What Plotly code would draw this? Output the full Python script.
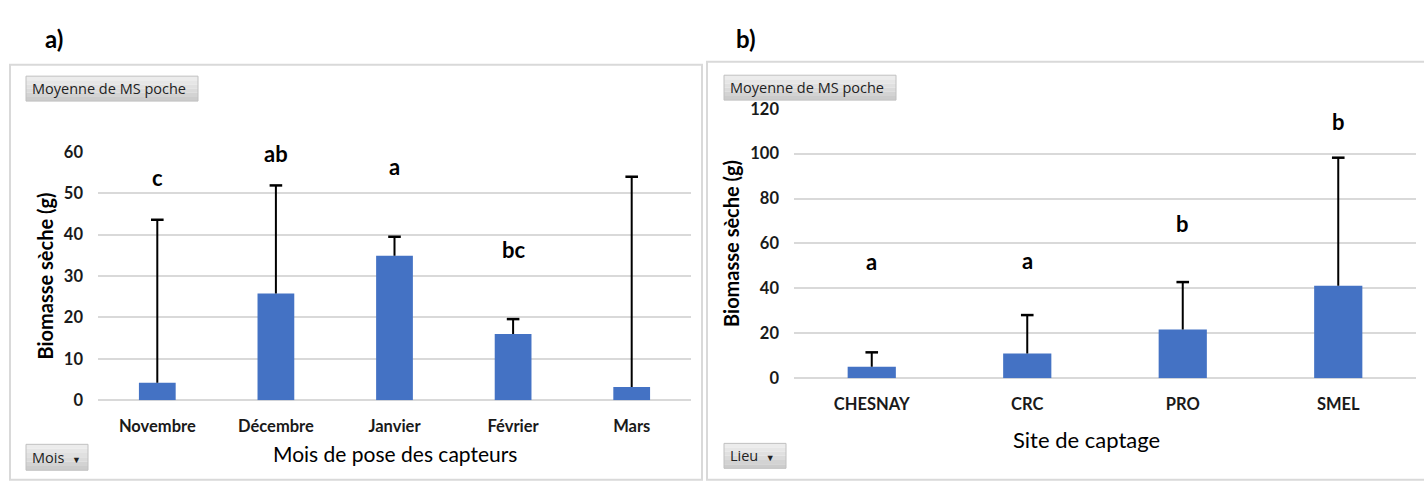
import plotly.graph_objects as go

W, H = 1424, 485

# ---------------- data ----------------
months = ["Novembre", "Décembre", "Janvier", "Février", "Mars"]
month_means = [4.2, 25.8, 34.9, 16.0, 3.2]
month_upper = [43.6, 51.9, 39.5, 19.6, 54.0]
month_letters = ["c", "ab", "a", "bc", "c"]
month_letter_y = [53.9, 59.5, 56.4, 36.5, 62.6]

sites = ["CHESNAY", "CRC", "PRO", "SMEL"]
site_means = [5.1, 11.0, 21.7, 41.2]
site_upper = [11.5, 28.1, 42.8, 98.2]
site_letters = ["a", "a", "b", "b"]
site_letter_y = [51.9, 52.3, 68.7, 114.3]

month_ticks = [0, 10, 20, 30, 40, 50, 60]
site_ticks = [0, 20, 40, 60, 80, 100, 120]

FONT = "Lato"
BAR = "#4472C4"
GRID = "#d9d9d9"


def px(x):
    return x / W


def py(y):
    return 1 - y / H


fig = go.Figure()


def add_panel(cats, means, upper, xa, ya):
    fig.add_trace(go.Bar(
        x=cats, y=means, marker=dict(color=BAR, line=dict(width=0)), width=0.31,
        xaxis=xa, yaxis=ya, showlegend=False, hoverinfo="skip"))
    # one-sided (upper) error bars, no cap at the bar top
    lx, ly = [], []
    for c, m, u in zip(cats, means, upper):
        lx += [c, c, None]
        ly += [m, u, None]
    fig.add_trace(go.Scatter(
        x=lx, y=ly, mode="lines", line=dict(color="black", width=2),
        xaxis=xa, yaxis=ya, showlegend=False, hoverinfo="skip", cliponaxis=False))
    fig.add_trace(go.Scatter(
        x=cats, y=upper, mode="markers",
        marker=dict(symbol="line-ew-open", size=9, color="black",
                    line=dict(color="black", width=2.5)),
        xaxis=xa, yaxis=ya, showlegend=False, hoverinfo="skip", cliponaxis=False))


add_panel(months, month_means, month_upper, "x", "y")
add_panel(sites, site_means, site_upper, "x2", "y2")

tickfont = dict(family=FONT, size=16.5, color="#1a1a1a", weight="bold")
catfont = dict(family=FONT, size=16.5, color="#1a1a1a", weight="bold")

common_y = dict(showgrid=True, gridcolor=GRID, gridwidth=2, zeroline=True,
                zerolinecolor=GRID, zerolinewidth=2, showline=False,
                tickfont=tickfont, ticks="", ticklabelstandoff=14, fixedrange=True)
common_x = dict(showgrid=False, showline=False, zeroline=False, ticks="",
                tickfont=catfont, ticklabelstandoff=14, fixedrange=True)

fig.update_layout(
    width=W, height=H, margin=dict(l=0, r=0, t=0, b=0),
    paper_bgcolor="white", plot_bgcolor="white",
    xaxis=dict(domain=[px(98), px(691)], anchor="y", **common_x),
    yaxis=dict(domain=[py(407), py(148)], anchor="x", range=[0, 60],
               tickvals=month_ticks, **common_y),
    xaxis2=dict(domain=[px(794), px(1416)], anchor="y2", **common_x),
    yaxis2=dict(domain=[py(384), py(103)], anchor="x2", range=[0, 120],
                tickvals=site_ticks, **common_y),
)

ann = []
LET = dict(family=FONT, size=22, color="black", weight="bold")
for m, ly, t in zip(months, month_letter_y, month_letters):
    ann.append(dict(x=m, y=ly, xref="x", yref="y", text=t, showarrow=False,
                    xanchor="center", yanchor="middle", font=LET))
for s, ly, t in zip(sites, site_letter_y, site_letters):
    ann.append(dict(x=s, y=ly, xref="x2", yref="y2", text=t, showarrow=False,
                    xanchor="center", yanchor="middle", font=LET))


def paper_text(x, y, text, font, angle=0, xanchor="center"):
    ann.append(dict(x=px(x), y=py(y), xref="paper", yref="paper", text=text,
                    showarrow=False, xanchor=xanchor, yanchor="middle",
                    textangle=angle, font=font))


# panel labels
paper_text(54, 30, "a)", dict(family=FONT, size=24, color="black", weight="bold"))
paper_text(746, 30, "b)", dict(family=FONT, size=24, color="black", weight="bold"))

# axis titles
paper_text(395, 463, "Mois de pose des capteurs", dict(family=FONT, size=21, color="black"))
paper_text(1086, 448, "Site de captage", dict(family=FONT, size=22, color="black"))
paper_text(45, 278, "Biomasse sèche (g)",
           dict(family=FONT, size=20, color="black", weight="bold"), angle=-90)
paper_text(731, 244, "Biomasse sèche (g)",
           dict(family=FONT, size=20, color="black", weight="bold"), angle=-90)

shapes = []
# panel frames
shapes.append(dict(type="rect", xref="paper", yref="paper", x0=px(10), x1=px(702),
                   y0=py(490), y1=py(57), line=dict(color=GRID, width=2), layer="below"))
shapes.append(dict(type="rect", xref="paper", yref="paper", x0=px(707), x1=px(1430),
                   y0=py(490), y1=py(54), line=dict(color=GRID, width=2), layer="below"))

# pivot-chart buttons (vertical gray gradient made of bands)
buttons = [
    (26, 198, 69, 95, "Moyenne de MS poche"),
    (724, 896, 68, 94, "Moyenne de MS poche"),
    (26, 88, 453, 480, "Mois  <span style='font-size:9px'>▼</span>"),
    (724, 786, 452, 478, "Lieu  <span style='font-size:9px'>▼</span>"),
]
bands = ["#ececec", "#e6e6e6", "#e0e0e0", "#dadada", "#d3d3d3", "#cccccc"]
for x0, x1, y0, y1, t in buttons:
    n = len(bands)
    for i, col in enumerate(bands):
        b0 = y0 + (y1 - y0) * i / n
        b1 = y0 + (y1 - y0) * (i + 1) / n
        shapes.append(dict(type="rect", xref="paper", yref="paper", x0=px(x0), x1=px(x1),
                           y0=py(b1), y1=py(b0), fillcolor=col,
                           line=dict(width=0), layer="above"))
    shapes.append(dict(type="rect", xref="paper", yref="paper", x0=px(x0), x1=px(x1),
                       y0=py(y1), y1=py(y0), line=dict(color="#c0c0c0", width=1),
                       layer="above"))
    paper_text(x0 + 4, (y0 + y1) / 2, t,
               dict(family="Open Sans", size=14.5, color="#222222"), xanchor="left")

fig.update_layout(annotations=ann, shapes=shapes)

fig.write_html("out.html")
